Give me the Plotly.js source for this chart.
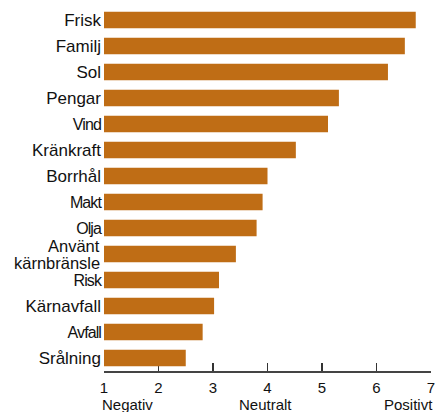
<!DOCTYPE html>
<html>
<head>
<meta charset="utf-8">
<script src="https://cdn.plot.ly/plotly-3.0.1.min.js"></script>
<style>
  html, body { margin: 0; padding: 0; background: #fff; }
  #chart { width: 436px; height: 412px; }
</style>
</head>
<body>
<div id="chart"></div>
<script>
// Mean rating of each word on a 1 (negative) – 7 (positive) scale
const categories = [
  "Frisk", "Familj", "Sol", "Pengar", "Vind", "Kränkraft", "Borrhål",
  "Makt", "Olja", "Använt kärnbränsle", "Risk", "Kärnavfall", "Avfall", "Srålning"
];
const ratings = [6.72, 6.52, 6.21, 5.31, 5.11, 4.52, 4.00, 3.91, 3.80, 3.42, 3.11, 3.02, 2.81, 2.50];

// Words set smaller and tighter
const narrowWords = ["Vind", "Makt", "Olja", "Risk", "Avfall"];
// Word whose label is split over two tightly spaced lines
const splitWord = "Använt kärnbränsle";

const scaleTicks = [1, 2, 3, 4, 5, 6, 7];
const scaleEnds = [
  { value: 1, text: "Negativ", anchor: "left" },
  { value: 4, text: "Neutralt", anchor: "center" },
  { value: 7, text: "Positivt", anchor: "right" }
];

const barColor = "rgb(191,109,21)";
const inkColor = "#111";
const labelFont = "'Liberation Sans', Arial, sans-serif";

const tickLabels = categories.map(c => {
  if (c === splitWord) return "";
  if (narrowWords.includes(c)) {
    return '<span style="font-size:16px;letter-spacing:-0.9px;">' + c + '</span>';
  }
  return c;
});

const trace = {
  type: "bar",
  orientation: "h",
  x: ratings.map(v => v - 1),
  base: 1,
  y: categories,
  marker: { color: barColor, line: { width: 0 } },
  hoverinfo: "skip"
};

// the two lines of the split label, placed around the bar centre
const splitLines = splitWord.split(" ").map((line, i) => ({
  x: 0,
  xref: "paper",
  y: splitWord,
  yref: "y",
  xanchor: "right",
  yanchor: "middle",
  xshift: -3,
  yshift: i === 0 ? 8 : -9,
  borderpad: 0,
  text: line,
  showarrow: false,
  font: { size: 16.5, color: inkColor, family: labelFont }
}));

const endLabels = scaleEnds.map(e => ({
  x: e.value,
  xref: "x",
  y: 0,
  yref: "paper",
  yshift: -23,
  yanchor: "top",
  xanchor: e.anchor,
  xshift: e.anchor === "left" ? -4 : (e.anchor === "right" ? 4 : -2),
  text: e.text,
  showarrow: false,
  font: { size: 15, color: inkColor, family: labelFont }
}));

const layout = {
  width: 436,
  height: 412,
  margin: { l: 104, r: 5, t: 7, b: 41, pad: 0 },
  paper_bgcolor: "#fff",
  plot_bgcolor: "#fff",
  showlegend: false,
  bargap: 0.36,
  font: { family: labelFont, color: inkColor },
  xaxis: {
    range: [1, 7],
    tickvals: scaleTicks,
    ticktext: scaleTicks.map(String),
    ticks: "inside",
    ticklen: 8,
    tickwidth: 1.3,
    tickcolor: "#333",
    showline: true,
    linecolor: "#444",
    linewidth: 1.8,
    showgrid: false,
    zeroline: false,
    layer: "below traces",
    ticklabelstandoff: 2,
    tickfont: { size: 15, color: inkColor },
    fixedrange: true
  },
  yaxis: {
    type: "category",
    categoryorder: "array",
    categoryarray: categories,
    autorange: "reversed",
    range: [13.5, -0.5],
    tickvals: categories,
    ticktext: tickLabels,
    ticks: "",
    ticklabelstandoff: 2,
    showline: false,
    showgrid: false,
    zeroline: false,
    tickfont: { size: 17, color: inkColor },
    fixedrange: true
  },
  annotations: splitLines.concat(endLabels)
};

Plotly.newPlot("chart", [trace], layout, { displayModeBar: false, staticPlot: true });
</script>
</body>
</html>
